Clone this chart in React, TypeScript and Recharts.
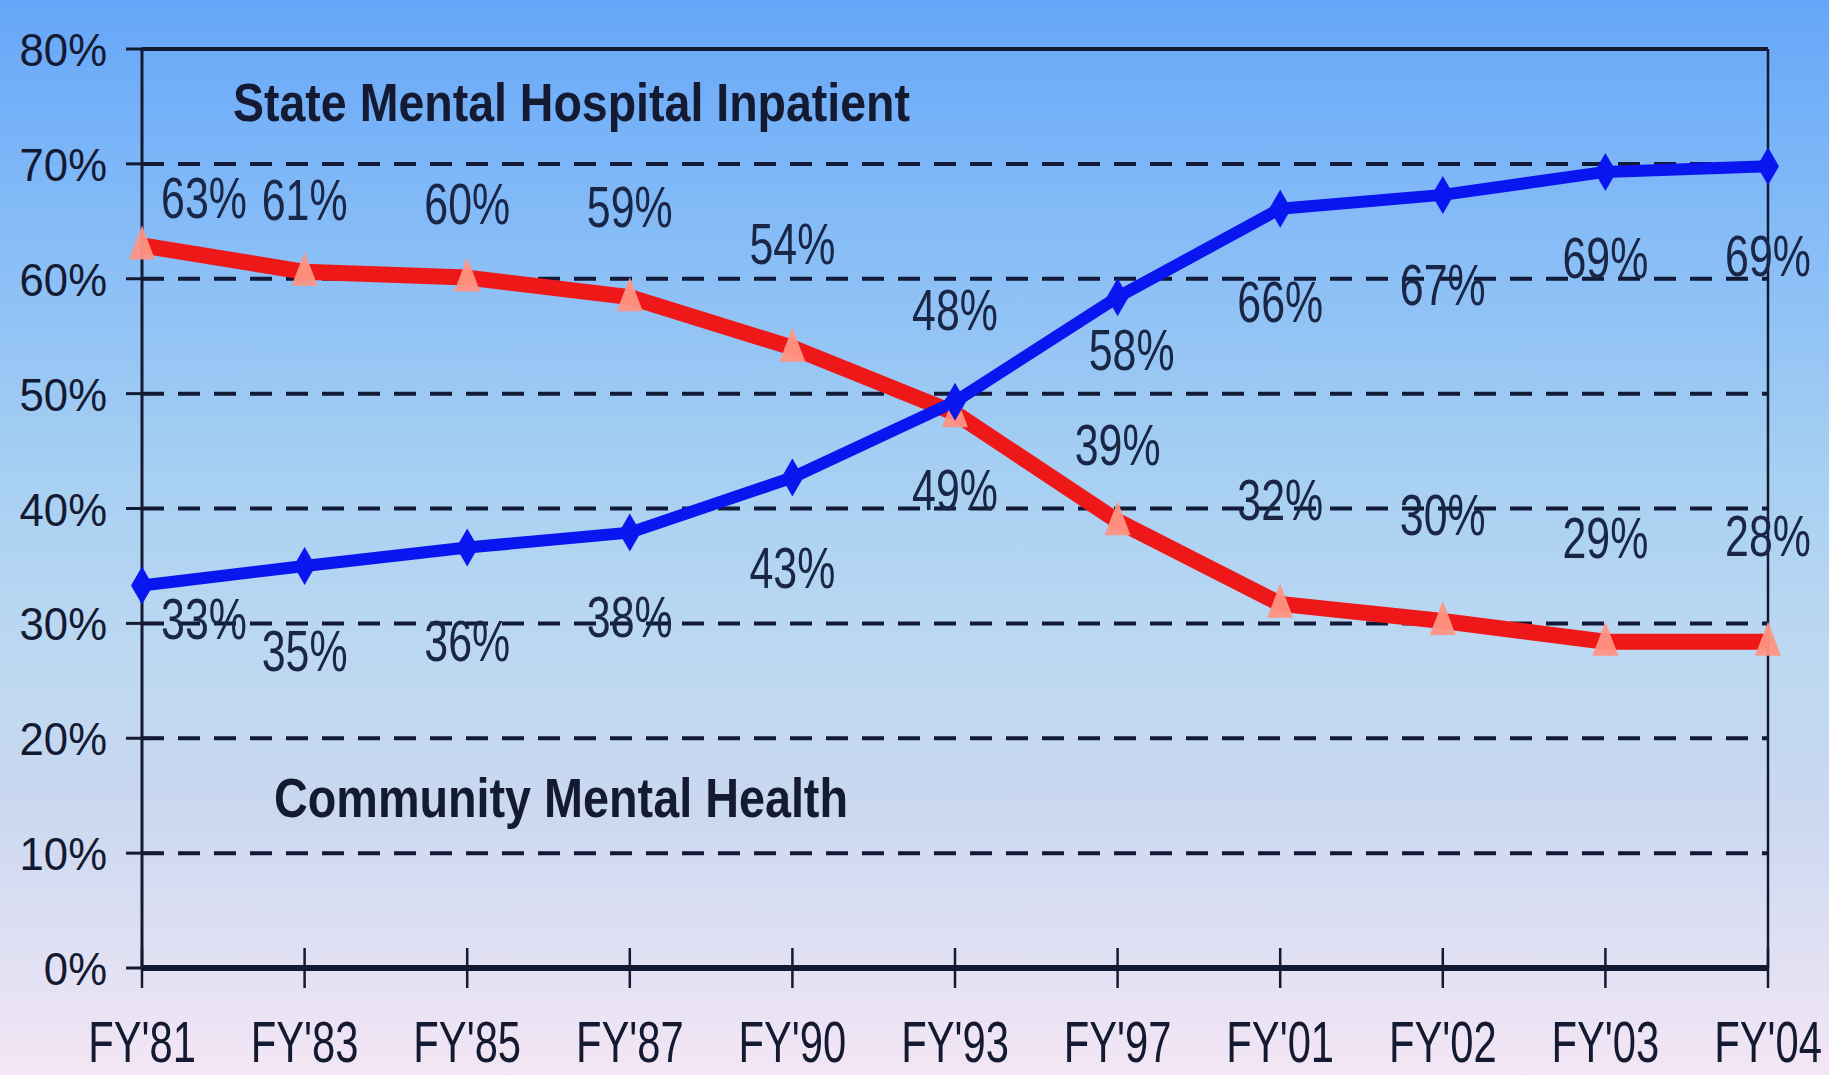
import React from 'react';
import {
  LineChart,
  Line,
  XAxis,
  YAxis,
  CartesianGrid,
  ReferenceLine,
  LabelList,
  Customized,
} from 'recharts';

const categories = ["FY'81", "FY'83", "FY'85", "FY'87", "FY'90", "FY'93", "FY'97", "FY'01", "FY'02", "FY'03", "FY'04"];
const communityValues = [33.3, 35.0, 36.6, 37.9, 42.7, 49.3, 58.4, 66.1, 67.3, 69.3, 69.8];
const hospitalValues = [62.9, 60.6, 60.1, 58.4, 54.0, 48.3, 38.9, 31.7, 30.2, 28.4, 28.4];
const communityLabels = ['33%', '35%', '36%', '38%', '43%', '49%', '58%', '66%', '67%', '69%', '69%'];
const hospitalLabels = ['63%', '61%', '60%', '59%', '54%', '48%', '39%', '32%', '30%', '29%', '28%'];
const yTicks = [0, 10, 20, 30, 40, 50, 60, 70, 80];

const data = categories.map((cat, i) => ({
  cat,
  community: communityValues[i],
  hospital: hospitalValues[i],
  communityLabel: communityLabels[i],
  hospitalLabel: hospitalLabels[i],
}));

// label placement offsets (px, relative to point) — styling only
const HOSP_DX = [62, 0, 0, 0, 0, 0, 0, 0, 0, 0, 0];
const HOSP_DY = [-48, -73, -75, -91, -105, -104, -77, -105, -107, -105, -107];
const COMM_DX = [62, 0, 0, 0, 0, 0, 14, 0, 0, 0, 0];
const COMM_DY = [33, 84, 92, 83, 90, 87, 52, 92, 89, 85, 89];

const FONT = '"Liberation Sans", Arial, sans-serif';
const INK = '#141a32';

const YTick = (props: any) => {
  const { x, y, payload } = props;
  const axisX = x + 35;
  return (
    <g>
      <line x1={axisX - 16} x2={axisX + 16} y1={y} y2={y} stroke={INK} strokeWidth={3} />
      <text
        transform={`translate(${x},${y + 17}) scale(0.93,1)`}
        textAnchor="end"
        fontFamily={FONT}
        fontSize={47}
        fill={INK}
      >
        {`${payload.value}%`}
      </text>
    </g>
  );
};

const XTick = (props: any) => {
  const { x, y, payload } = props;
  return (
    <g>
      <line x1={x} x2={x} y1={y - 20} y2={y + 20} stroke={INK} strokeWidth={2.5} />
      <text
        transform={`translate(${x},${y + 94}) scale(0.72,1)`}
        textAnchor="middle"
        fontFamily={FONT}
        fontSize={58}
        fill={INK}
      >
        {payload.value}
      </text>
    </g>
  );
};

const makeLabel = (dxs: number[], dys: number[]) => (props: any) => {
  const { x, y, value, index } = props;
  const cx = x + dxs[index];
  const cy = y + dys[index];
  return (
    <text
      transform={`translate(${cx},${cy + 21}) scale(0.74,1)`}
      textAnchor="middle"
      fontFamily={FONT}
      fontSize={58}
      fill="#1a2646"
    >
      {value}
    </text>
  );
};

const Diamond = (props: any) => {
  const { cx, cy } = props;
  if (cx == null || cy == null) return null;
  return (
    <polygon
      points={`${cx},${cy - 19} ${cx + 11},${cy} ${cx},${cy + 19} ${cx - 11},${cy}`}
      fill="#0a16f0"
    />
  );
};

const Triangle = (props: any) => {
  const { cx, cy } = props;
  if (cx == null || cy == null) return null;
  return (
    <polygon
      points={`${cx},${cy - 20} ${cx + 13},${cy + 14} ${cx - 13},${cy + 14}`}
      fill="#ff9484"
      opacity={0.95}
    />
  );
};

const Annotations = () => (
  <g>
    <text x={233} y={121} fontFamily={FONT} fontWeight="bold" fontSize={54} fill={INK} textLength={677} lengthAdjust="spacingAndGlyphs">
      State Mental Hospital Inpatient
    </text>
    <text x={274} y={817} fontFamily={FONT} fontWeight="bold" fontSize={56} fill={INK} textLength={574} lengthAdjust="spacingAndGlyphs">
      Community Mental Health
    </text>
  </g>
);

export default function App() {
  return (
    <div
      style={{
        position: 'absolute',
        left: 0,
        top: 0,
        width: 1829,
        height: 1075,
        overflow: 'hidden',
        background:
          'linear-gradient(to bottom, #66a6f8 0%, #7cb6f8 15%, #a8d0f2 45%, #bcd8f2 60%, #cad8f0 75%, #e6e2f4 92%, #f4e6f4 100%)',
      }}
    >
      <LineChart
        width={1829}
        height={1075}
        data={data}
        margin={{ top: 49, right: 61, bottom: 0, left: 0 }}
      >
        <CartesianGrid
          vertical={false}
          stroke="#121a38"
          strokeWidth={4}
          strokeDasharray="22 14"
        />
        <XAxis
          dataKey="cat"
          height={107}
          interval={0}
          tickSize={0}
          tickMargin={0}
          tick={<XTick />}
          axisLine={{ stroke: INK, strokeWidth: 6 }}
          padding={{ left: 0, right: 0 }}
        />
        <YAxis
          width={142}
          domain={[0, 80]}
          ticks={yTicks}
          interval={0}
          tickSize={0}
          tickMargin={35}
          tick={<YTick />}
          axisLine={{ stroke: INK, strokeWidth: 3 }}
        />
        <ReferenceLine y={80} stroke={INK} strokeWidth={4} />
        <ReferenceLine x="FY'04" stroke={INK} strokeWidth={2.5} />
        <Line
          dataKey="hospital"
          stroke="#ee1818"
          strokeWidth={16}
          strokeLinejoin="round"
          dot={<Triangle />}
          activeDot={false}
          isAnimationActive={false}
        >
          <LabelList dataKey="hospitalLabel" content={makeLabel(HOSP_DX, HOSP_DY)} />
        </Line>
        <Line
          dataKey="community"
          stroke="#0a16f0"
          strokeWidth={12}
          strokeLinejoin="round"
          dot={<Diamond />}
          activeDot={false}
          isAnimationActive={false}
        >
          <LabelList dataKey="communityLabel" content={makeLabel(COMM_DX, COMM_DY)} />
        </Line>
        <Customized component={Annotations} />
      </LineChart>
    </div>
  );
}
